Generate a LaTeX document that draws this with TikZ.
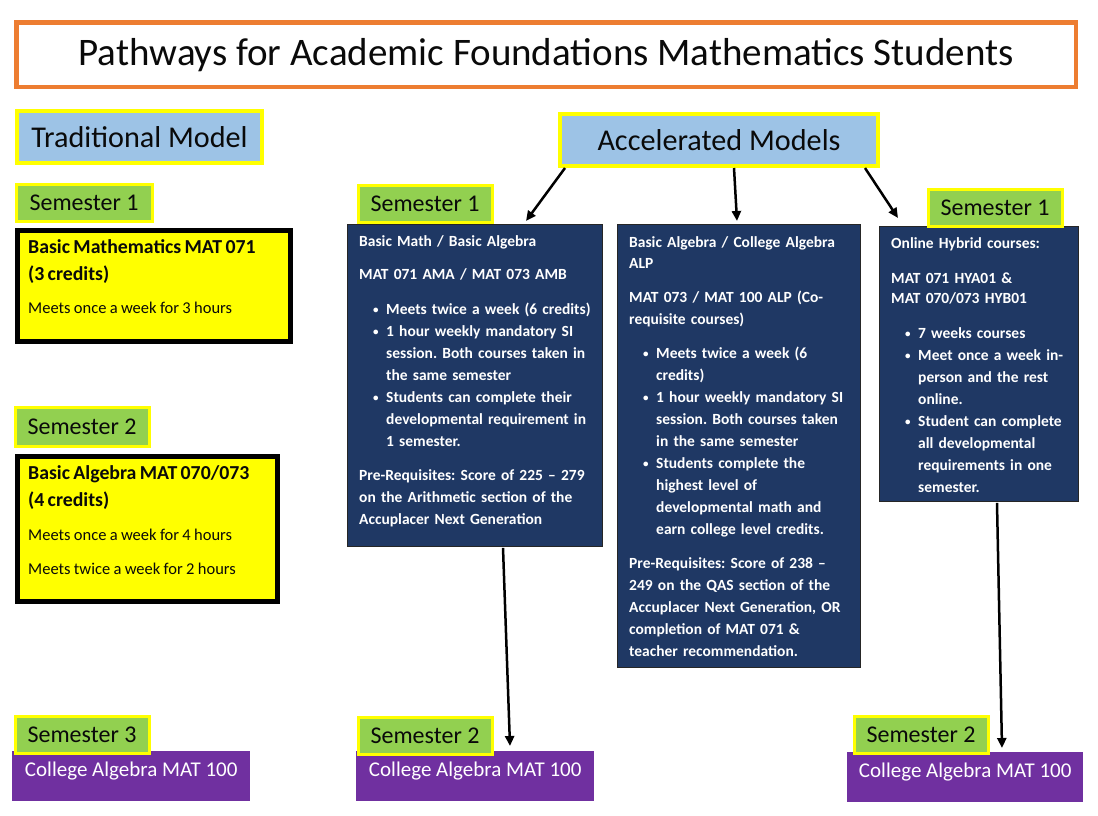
\documentclass[tikz,border=0pt]{standalone}
\usepackage{fontspec}
\setmainfont{Carlito}
\frenchspacing
\usetikzlibrary{arrows.meta,positioning}
\definecolor{Frame}{HTML}{ED7D31}
\definecolor{Sky}{HTML}{9DC3E6}
\definecolor{Lemon}{HTML}{FFFF00}
\definecolor{Leaf}{HTML}{92D050}
\definecolor{Navy}{HTML}{1F3864}
\definecolor{Plum}{HTML}{7030A0}
\definecolor{Ink}{HTML}{0A0A0A}
\newcommand{\dotitem}{\makebox[27pt][l]{\hspace{14pt}\raisebox{0.5pt}{\fontsize{11}{11}\selectfont\textbullet}}}
\newcommand{\contline}{\hspace*{27pt}}
\tikzset{
  titlebox/.style={draw=Frame,line width=4.5pt,fill=white,anchor=north west,minimum width=1059.5pt,minimum height=64.5pt,font=\fontsize{39}{46}\selectfont,text=Ink},
  modelbox/.style={draw=Lemon,line width=4pt,fill=Sky,anchor=north west,minimum height=52pt,font=\fontsize{30.2}{36}\selectfont,text=Ink},
  termbox/.style={draw=Lemon,line width=3pt,fill=Leaf,anchor=north west,minimum width=134pt,minimum height=37pt,inner sep=0pt,font=\fontsize{24}{29}\selectfont,text=Ink},
  coursebox/.style={draw=black,line width=5pt,fill=Lemon,anchor=north west,inner sep=0pt},
  navybox/.style={draw=black!85,line width=0.8pt,fill=Navy,anchor=north west,inner sep=0pt},
  plumbox/.style={fill=Plum,anchor=north west,minimum width=238pt,inner xsep=0pt,inner ysep=9pt,text height=16pt,text depth=16pt,font=\fontsize{21}{25}\selectfont,text=white},
  coursetext/.style={anchor=base west,inner sep=0pt,text width=262pt,align=left,text=Ink},
  navytext/.style={anchor=base west,inner sep=0pt,text width=262pt,align=left,text=white,font=\fontsize{15.5}{22}\selectfont\bfseries},
  flow/.style={-{Triangle[length=10pt,width=9pt]},line width=2.5pt,draw=black}
}
\begin{document}
\begin{tikzpicture}[x=1pt,y=-1pt]
  \useasboundingbox (0,0) rectangle (1098,816);
  \node[titlebox] (title) at (14.25,20.25) {Pathways for Academic Foundations Mathematics Students};
  \node[modelbox,minimum width=245pt] (trad) at (15,109) {Traditional Model};
  \node[modelbox,minimum width=318pt] (acc) at (558,112) {Accelerated Models};

  \node[coursebox,minimum width=273pt,minimum height=111pt] (basicmath) at (14.5,227.5) {};
  \node[coursebox,minimum width=260pt,minimum height=145pt] (basicalg) at (14.5,453.5) {};
  \node[coursetext] (basicmathtxt) at (28,253) {{\fontsize{19.8}{27}\selectfont\bfseries Basic Mathematics MAT 071\\(3 credits)\par}{\fontsize{16.5}{33.5}\selectfont Meets once a week for 3 hours\par}};
  \node[coursetext] (basicalgtxt) at (28,479) {{\fontsize{19.8}{27}\selectfont\bfseries Basic Algebra MAT 070/073\\(4 credits)\par}{\fontsize{16.5}{34}\selectfont Meets once a week for 4 hours\\Meets twice a week for 2 hours\par}};

  \node[navybox,minimum width=255pt,minimum height=322pt] (amab) at (347,224) {};
  \node[navybox,minimum width=243pt,minimum height=443pt] (alp) at (617,224) {};
  \node[navybox,minimum width=199pt,minimum height=275pt] (hybrid) at (879,226) {};

  \node[navytext] (amabtxt) at (359,246) {Basic Math / Basic Algebra\\[11pt]
    MAT 071 AMA / MAT 073 AMB\\[13pt]
    \dotitem Meets twice a week (6 credits)\\
    \dotitem 1 hour weekly mandatory SI\\
    \contline session. Both courses taken in\\
    \contline the same semester\\
    \dotitem Students can complete their\\
    \contline developmental requirement in\\
    \contline 1 semester.\\[12pt]
    Pre-Requisites: Score of 225 -- 279\\
    on the Arithmetic section of the\\
    Accuplacer Next Generation};
  \node[navytext] (alptxt) at (629,247) {Basic Algebra / College Algebra\\[-1pt]
    ALP\\[12pt]
    MAT 073 / MAT 100 ALP (Co-\\
    requisite courses)\\[12pt]
    \dotitem Meets twice a week (6\\
    \contline credits)\\
    \dotitem 1 hour weekly mandatory SI\\
    \contline session. Both courses taken\\
    \contline in the same semester\\
    \dotitem Students complete the\\
    \contline highest level of\\
    \contline developmental math and\\
    \contline earn college level credits.\\[12pt]
    Pre-Requisites: Score of 238 --\\
    249 on the QAS section of the\\
    Accuplacer Next Generation, OR\\
    completion of MAT 071 \&\\
    teacher recommendation.};
  \node[navytext] (hybridtxt) at (891,248) {Online Hybrid courses:\\[13pt]
    MAT 071 HYA01 \&\\[-2pt]
    MAT 070/073 HYB01\\[13pt]
    \dotitem 7 weeks courses\\
    \dotitem Meet once a week in-\\
    \contline person and the rest\\
    \contline online.\\
    \dotitem Student can complete\\
    \contline all developmental\\
    \contline requirements in one\\
    \contline semester.};

  \node[plumbox] (mat100a) at (12,751) {College Algebra MAT 100};
  \node[plumbox] (mat100b) at (356,751) {College Algebra MAT 100};
  \node[plumbox,minimum width=236pt] (mat100c) at (847,752) {College Algebra MAT 100};

  \node[termbox,minimum width=136pt] (semA) at (14.5,182.5) {Semester 1};
  \node[termbox,minimum height=39pt] (semB) at (13.5,405.5) {Semester 2};
  \node[termbox] (semC) at (13.5,714.5) {Semester 3};
  \node[termbox] (semD) at (356.5,183.5) {Semester 1};
  \node[termbox] (semE) at (356.5,715.5) {Semester 2};
  \node[termbox] (semF) at (926.5,187.5) {Semester 1};
  \node[termbox] (semG) at (852.5,714.5) {Semester 2};

  \draw[flow] ([xshift=7pt]acc.south west) -- ([xshift=179pt,yshift=3pt]amab.north west);
  \draw[flow] ([xshift=176pt]acc.south west) -- ([xshift=120pt,yshift=3pt]alp.north west);
  \draw[flow] ([xshift=307pt]acc.south west) -- ([xshift=19pt,yshift=8pt]hybrid.north west);
  \draw[flow] ([xshift=156pt,yshift=-1pt]amab.south west) -- ([xshift=154pt,yshift=5pt]mat100b.north west);
  \draw[flow] ([xshift=118pt,yshift=-1pt]hybrid.south west) -- ([xshift=155pt,yshift=4pt]mat100c.north west);
\end{tikzpicture}
\end{document}
